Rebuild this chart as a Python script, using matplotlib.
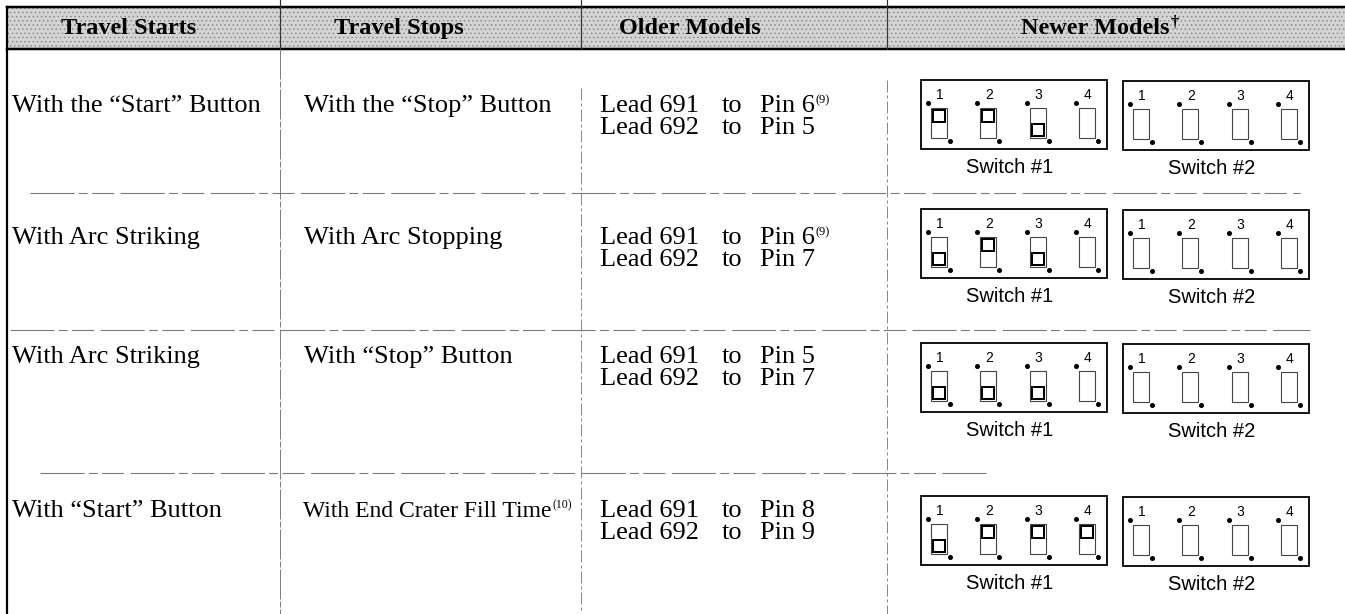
import matplotlib
matplotlib.use("Agg")
import matplotlib.pyplot as plt
from matplotlib.patches import Rectangle

# ---------------- data ----------------
headers = ["Travel Starts", "Travel Stops", "Older Models", "Newer Models"]
header_note = "\u2020"
travel_starts = ["With the \u201cStart\u201d Button", "With Arc Striking",
                 "With Arc Striking", "With \u201cStart\u201d Button"]
travel_stops = ["With the \u201cStop\u201d Button", "With Arc Stopping",
                "With \u201cStop\u201d Button", "With End Crater Fill Time"]
stop_notes = ["", "", "", "(10)"]
lead_names = ["Lead 691", "Lead 692"]
lead_691_pins = ["Pin 6", "Pin 6", "Pin 5", "Pin 8"]
lead_691_notes = ["(9)", "(9)", "", ""]
lead_692_pins = ["Pin 5", "Pin 7", "Pin 7", "Pin 9"]
# DIP switch toggle positions: 1 = up, -1 = down, 0 = no toggle shown
switch1_states = [[1, 1, -1, 0], [-1, 1, -1, 0], [-1, -1, -1, 0], [-1, 1, 1, 1]]
switch2_states = [[0, 0, 0, 0], [0, 0, 0, 0], [0, 0, 0, 0], [0, 0, 0, 0]]
switch_labels = ["Switch #1", "Switch #2"]
switch_numbers = ["1", "2", "3", "4"]

# ---------------- layout ----------------
W, H = 1345, 614
plt.rcParams["hatch.linewidth"] = 0.6
fig = plt.figure(figsize=(W / 100, H / 100), dpi=100)
ax = fig.add_axes([0, 0, 1, 1])
ax.set_xlim(0, W)
ax.set_ylim(H, 0)
ax.axis("off")

SERIF = ["Liberation Serif", "DejaVu Serif"]
SANS = ["Liberation Sans", "DejaVu Sans"]
PX = 0.72  # points per pixel at 100 dpi

col_x = [7, 280, 581, 887, W]
header_top, header_bot = 7, 49
row_seps = [193, 330, 473]
text_base = [112, 244, 363, 517]
line_gap = 22
box_tops = [80, 209, 343, 496]

# header band (stippled grey)
ax.add_patch(Rectangle((col_x[0], header_top), W - col_x[0], header_bot - header_top,
                       facecolor="#d4d4d4", edgecolor="#8c8c8c", lw=0, hatch="....",
                       zorder=0))
ax.plot([col_x[0], W], [header_top, header_top], color="black", lw=2.5 * PX)
ax.plot([col_x[0], W], [header_bot, header_bot], color="black", lw=2.5 * PX)
for cx in col_x[1:4]:
    ax.plot([cx, cx], [0, header_bot], color="#333333", lw=1.2 * PX)

# left border
ax.plot([col_x[0], col_x[0]], [header_top, H], color="black", lw=2.2 * PX)

# vertical column lines in body
ax.plot([col_x[1], col_x[1]], [header_bot, H], color="#808080", lw=1.0 * PX,
        dashes=(30, 2, 6, 2))
ax.plot([col_x[2], col_x[2]], [88, H], color="#8a8a8a", lw=1.0 * PX,
        dashes=(12, 3, 3, 3))
ax.plot([col_x[3], col_x[3]], [80, H], color="#8a8a8a", lw=1.0 * PX,
        dashes=(12, 3, 3, 3))

# row separators
sep_spans = [(30, 1300), (10, 1310), (40, 990)]
for y, (x0, x1) in zip(row_seps, sep_spans):
    ax.plot([x0, x1], [y, y], color="#7a7a7a", lw=1.1 * PX, dashes=(40, 4, 8, 4, 20, 6))

# header texts
header_cx = [129, 399, 690, 1095]
hdr_objs = []
for t, cx in zip(headers, header_cx):
    hdr_objs.append(ax.text(cx, 34, t, family=SERIF, weight="bold", fontsize=17.5,
                            ha="center", va="baseline"))

fig.canvas.draw()
renderer = fig.canvas.get_renderer()
inv = ax.transData.inverted()


def right_end(txt):
    bb = txt.get_window_extent(renderer)
    return inv.transform((bb.x1, bb.y0))[0]


def superscript(txt, s, base_y, size, rise, weight="normal"):
    x = right_end(txt) + 1
    ax.text(x, base_y - rise, s, family=SERIF, fontsize=size, weight=weight,
            ha="left", va="baseline")


superscript(hdr_objs[3], header_note, 34, 12, 8, weight="bold")

BODY = 19
# column 1 and 2
for i in range(4):
    ax.text(12, text_base[i], travel_starts[i], family=SERIF, fontsize=BODY,
            ha="left", va="baseline")
    size = BODY if not stop_notes[i] else 17
    t2 = ax.text(304 if not stop_notes[i] else 303, text_base[i], travel_stops[i],
                 family=SERIF, fontsize=size, ha="left", va="baseline")
    if stop_notes[i]:
        superscript(t2, stop_notes[i], text_base[i], 8.5, 9)

# column 3
for i in range(4):
    for j, (pin, note) in enumerate([(lead_691_pins[i], lead_691_notes[i]),
                                     (lead_692_pins[i], "")]):
        yb = text_base[i] + j * line_gap
        ax.text(600, yb, lead_names[j], family=SERIF, fontsize=BODY, ha="left", va="baseline")
        ax.text(722, yb, "to", family=SERIF, fontsize=BODY, ha="left", va="baseline")
        tp = ax.text(760, yb, pin, family=SERIF, fontsize=BODY, ha="left", va="baseline")
        if note:
            superscript(tp, note, yb, 9, 9)

# column 4: DIP switches
BOX_W, BOX_H = 186, 69
box_x = [921, 1123]


def draw_switch(bx, by, states, label):
    ax.add_patch(Rectangle((bx, by), BOX_W, BOX_H, facecolor="white",
                           edgecolor="black", lw=1.8 * PX, zorder=2))
    for k, st in enumerate(states):
        sx = bx + 10 + k * 49.3
        sy = by + 28
        sw, sh = 16, 30
        ax.add_patch(Rectangle((sx, sy), sw, sh, facecolor="none",
                               edgecolor="#444444", lw=1.1 * PX, zorder=3))
        ax.plot([sx - 3], [sy - 5], "o", color="black", ms=2.6, zorder=4)
        ax.plot([sx + sw + 3], [sy + sh + 3], "o", color="black", ms=2.6, zorder=4)
        ax.text(sx + sw / 2 + 1, by + 19, switch_numbers[k], family=SANS,
                fontsize=10, ha="center", va="baseline", zorder=4)
        if st != 0:
            ty = sy + 2 if st > 0 else sy + sh - 14
            ax.add_patch(Rectangle((sx + 2, ty), 12, 12, facecolor="white",
                                   edgecolor="black", lw=2.0 * PX, zorder=4))
    ax.text(bx + BOX_W / 2 - 4, by + BOX_H + 24, label, family=SANS,
            fontsize=14.5, ha="center", va="baseline")


for i in range(4):
    draw_switch(box_x[0], box_tops[i], switch1_states[i], switch_labels[0])
    draw_switch(box_x[1], box_tops[i] + 1, switch2_states[i], switch_labels[1])

fig.savefig("out.png", dpi=100)
